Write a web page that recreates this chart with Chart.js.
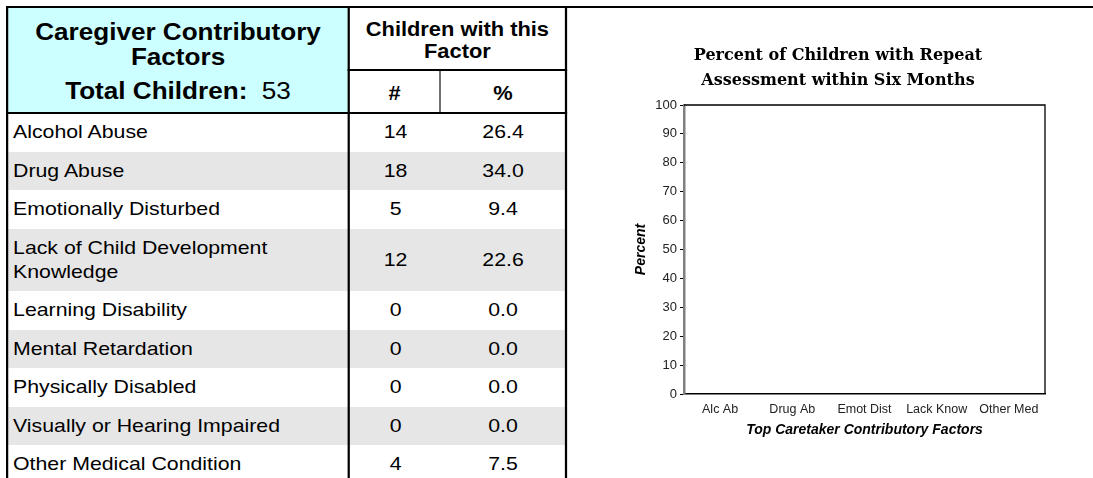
<!DOCTYPE html>
<html>
<head>
<meta charset="utf-8">
<script src="https://cdn.jsdelivr.net/npm/chart.js@4.4.1/dist/chart.umd.min.js"></script>
<style>
  html, body { margin:0; padding:0; background:#fff; width:1093px; height:478px; overflow:hidden; }
  body { position:relative; font-family:"Liberation Sans", Arial, sans-serif; color:#000; }
  #topline { position:absolute; left:6px; top:6px; width:1087px; height:2px; background:#000; z-index:5; }
  /* table drawn in a horizontally stretched box (the reference text is wide) */
  #tbl { position:absolute; left:6px; top:0; width:501px; height:478px; transform:scaleX(1.12); transform-origin:0 0; }
  #tbl div { position:absolute; box-sizing:border-box; }
  .line { background:#000; z-index:3; }
  .hdrL { left:1.8px; top:8px; width:303.6px; height:104px; background:#ccffff; text-align:center;
          font-weight:bold; font-size:23.3px; line-height:25px; padding-top:11.8px; }
  .hdrL .t3 { position:static !important; margin-top:9.3px; }
  .hdrL .t3 span { font-weight:normal; }
  .hdrR { left:307.1px; top:8px; width:191.9px; height:61px; text-align:center; font-weight:bold;
          font-size:19.5px; line-height:22px; padding-top:9.5px; }
  .hdrS { top:71px; height:41px; text-align:center; font-weight:bold; font-size:19.5px; line-height:22px; padding-top:10.5px; }
  #rows { left:1.8px; top:113px; width:497.2px; }
  #rows .row { position:relative !important; display:flex; font-size:19px; line-height:24px; padding:7.25px 0; }
  #rows .row.g { background:#e6e6e6; }
  #rows .row div { position:static !important; }
  #rows .lab { width:303.6px; padding-left:4.5px; padding-right:20px; }
  #rows .num { width:81.6px; margin-left:1.7px; text-align:center; align-self:center; }
  #rows .pct { width:110.3px; text-align:center; align-self:center; }
  #chartWrap { position:absolute; left:579px; top:0; width:514px; height:478px; }
</style>
</head>
<body>
<div id="tbl"></div>
<div id="topline"></div>
<div id="chartWrap"><canvas id="c" width="514" height="478"></canvas></div>
<script>
// ---- Table data ----
const headerTitleLines = ["Caregiver Contributory", "Factors"];
const totalLabel = "Total Children:";
const totalChildren = 53;
const groupHeaderLines = ["Children with this", "Factor"];
const colHeaders = ["#", "%"];
const factorNames = [
  "Alcohol Abuse",
  "Drug Abuse",
  "Emotionally Disturbed",
  "Lack of Child Development Knowledge",
  "Learning Disability",
  "Mental Retardation",
  "Physically Disabled",
  "Visually or Hearing Impaired",
  "Other Medical Condition"
];
const factorCounts = [14, 18, 5, 12, 0, 0, 0, 0, 4];
const factorPercents = [26.4, 34.0, 9.4, 22.6, 0.0, 0.0, 0.0, 0.0, 7.5];

// ---- Chart data ----
const chartTitle = ["Percent of Children with Repeat", "Assessment within Six Months"];
const categories = ["Alc Ab", "Drug Ab", "Emot Dist", "Lack Know", "Other Med"];
const repeatPercent = [0, 0, 0, 0, 0];
const yTickValues = [0, 10, 20, 30, 40, 50, 60, 70, 80, 90, 100];
const yAxisTitle = "Percent";
const xAxisTitle = "Top Caretaker Contributory Factors";

// ---- Build table ----
const tbl = document.getElementById('tbl');
function addDiv(cls, style, html) {
  const d = document.createElement('div');
  d.className = cls;
  if (style) d.style.cssText = style;
  if (html !== undefined) d.innerHTML = html;
  tbl.appendChild(d);
  return d;
}
addDiv('hdrL', '', headerTitleLines.join('<br>') +
  '<div class="t3">' + totalLabel + '&nbsp; <span>' + totalChildren + '</span></div>');
addDiv('hdrR', '', groupHeaderLines.join('<br>'));
addDiv('hdrS', 'left:307.1px;width:79.9px;', colHeaders[0]);
addDiv('hdrS', 'left:388.4px;width:110.6px;', colHeaders[1]);

const rows = addDiv('', '', '');
rows.id = 'rows';
factorNames.forEach((name, i) => {
  const r = document.createElement('div');
  r.className = 'row' + (i % 2 === 1 ? ' g' : '');
  r.innerHTML = '<div class="lab">' + name + '</div><div class="num">' + factorCounts[i] +
    '</div><div class="pct">' + factorPercents[i].toFixed(1) + '</div>';
  rows.appendChild(r);
});

// grid lines of the table (local, unstretched coordinates)
addDiv('line', 'left:0;top:6px;width:1.8px;height:472px;');
addDiv('line', 'left:305.4px;top:6px;width:1.8px;height:472px;');
addDiv('line', 'left:499px;top:6px;width:1.9px;height:472px;');
addDiv('line', 'left:386.8px;top:70px;width:1.7px;height:43px;');
addDiv('line', 'left:305.4px;top:69px;width:195.5px;height:2px;');
addDiv('line', 'left:0;top:112px;width:500.9px;height:2px;');

// ---- Chart ----
const frameBorder = {
  id: 'frameBorder',
  afterDraw(chart) {
    const {ctx, chartArea: a} = chart;
    ctx.save();
    ctx.strokeStyle = '#000';
    ctx.lineWidth = 1.3;
    ctx.beginPath();
    ctx.moveTo(a.left, a.top);
    ctx.lineTo(a.right, a.top);
    ctx.lineTo(a.right, a.bottom);
    ctx.stroke();
    ctx.restore();
  }
};

new Chart(document.getElementById('c'), {
  type: 'bar',
  data: {
    labels: categories,
    datasets: [{ label: 'Repeat', data: repeatPercent, backgroundColor: '#000080', borderWidth: 0 }]
  },
  options: {
    responsive: false,
    animation: false,
    devicePixelRatio: 1,
    layout: { padding: { left: 52, right: 48, top: 0, bottom: 38 } },
    plugins: {
      legend: { display: false },
      tooltip: { enabled: false },
      title: {
        display: true,
        text: chartTitle,
        color: '#000',
        font: { family: 'DejaVu Serif', size: 16, weight: 'bold', lineHeight: 1.5625 },
        padding: { top: 43.5, bottom: 11.5 }
      }
    },
    scales: {
      x: {
        grid: { display: false, drawTicks: false, tickLength: 0 },
        border: { display: true, color: '#000', width: 1.5 },
        ticks: { color: '#222', font: { family: 'Liberation Sans', size: 12.5 }, padding: 8, maxRotation: 0 },
        title: { display: true, text: xAxisTitle, color: '#000',
                 font: { family: 'Liberation Sans', size: 14, weight: 'bold', style: 'italic' },
                 padding: { top: 0, bottom: 1.5 } },
        afterFit(scale) { scale.height = 46; }
      },
      y: {
        min: 0, max: 100,
        afterBuildTicks(scale) { scale.ticks = yTickValues.map(v => ({ value: v })); },
        grid: { display: true, drawOnChartArea: false, drawTicks: true, tickLength: 4, color: '#000', lineWidth: 1 },
        border: { display: true, color: '#808080', width: 2.5 },
        ticks: { color: '#222', font: { family: 'Liberation Sans', size: 13 }, padding: 3 },
        title: { display: true, text: yAxisTitle, color: '#000',
                 font: { family: 'Liberation Sans', size: 14, weight: 'bold', style: 'italic' },
                 padding: { top: 2, bottom: 0 } },
        afterFit(scale) { scale.width = 53; }
      }
    }
  },
  plugins: [frameBorder]
});
</script>
</body>
</html>
